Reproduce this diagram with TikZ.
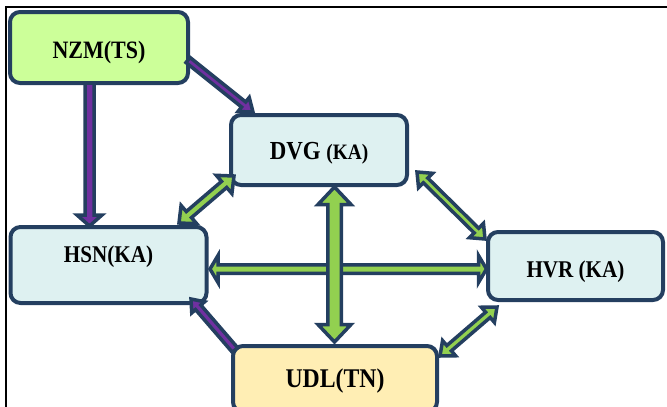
\documentclass[tikz,border=0pt]{standalone}
\usepackage{fontspec}
\setmainfont{Liberation Serif}[FakeStretch=0.88]
\usetikzlibrary{calc}
\definecolor{navy}{RGB}{36,63,96}
\definecolor{nzmfill}{RGB}{204,255,153}
\definecolor{cyanfill}{RGB}{222,241,241}
\definecolor{udlfill}{RGB}{255,238,180}
\definecolor{arrgreen}{RGB}{146,208,80}
\definecolor{arrpurple}{RGB}{112,48,160}
% single-headed block arrow: #1 tail, #2 tip, #3 fill, #4 shaft half width, #5 head half width, #6 head length
\newcommand{\barrS}[6]{%
  \draw[barrow, fill=#3]
    ($(#1)!#4!-90:(#2)$) --
    ($(#2)!#6!(#1)!#4!90:(#1)$) --
    ($(#2)!#6!(#1)!#5!90:(#1)$) --
    (#2) --
    ($(#2)!#6!(#1)!#5!-90:(#1)$) --
    ($(#2)!#6!(#1)!#4!-90:(#1)$) --
    ($(#1)!#4!90:(#2)$) -- cycle;}
% double-headed block arrow
\newcommand{\barrD}[6]{%
  \draw[barrow, fill=#3]
    ($(#2)!#6!(#1)!#4!90:(#1)$) --
    ($(#2)!#6!(#1)!#5!90:(#1)$) --
    (#2) --
    ($(#2)!#6!(#1)!#5!-90:(#1)$) --
    ($(#2)!#6!(#1)!#4!-90:(#1)$) --
    ($(#1)!#6!(#2)!#4!90:(#2)$) --
    ($(#1)!#6!(#2)!#5!90:(#2)$) --
    (#1) --
    ($(#1)!#6!(#2)!#5!-90:(#2)$) --
    ($(#1)!#6!(#2)!#4!-90:(#2)$) -- cycle;}
\begin{document}
\begin{tikzpicture}[x=1pt,y=-1pt,
  box/.style={draw=navy, line width=4pt, rounded corners=10pt, outer sep=0pt, inner sep=0pt, text=black, text depth=0pt},
  barrow/.style={draw=navy, line width=3.5pt, line join=miter}]
\useasboundingbox (0,0) rectangle (667,407);
\clip (0,0) rectangle (667,407);
\draw[line width=1.5pt, black] (667,7) -- (6,7) -- (6,407);

\node[box, fill=nzmfill, minimum width=178pt, minimum height=71pt,
  font=\bfseries\fontsize{25}{25}\selectfont, text height=21.5pt] (nzm) at (99,47.5) {NZM(TS)};
\node[box, fill=cyanfill, minimum width=176pt, minimum height=70pt,
  font=\bfseries\fontsize{26}{26}\selectfont, text height=19.2pt] (dvg) at (319,150) {DVG {\fontsize{22}{22}\selectfont(KA)}};
\node[box, fill=cyanfill, minimum width=196pt, minimum height=76pt,
  font=\bfseries\fontsize{24}{24}\selectfont, text height=15.9pt, text depth=20pt] (hsn) at (108.5,265) {HSN(KA)};
\node[box, fill=cyanfill, minimum width=175pt, minimum height=68pt,
  font=\bfseries\fontsize{24}{24}\selectfont, text height=22pt] (hvr) at (575.5,266) {HVR (KA)};
\node[box, fill=udlfill, minimum width=204pt, minimum height=66pt,
  font=\bfseries\fontsize{27}{27}\selectfont, text height=17.9pt] (udl) at (335,379) {UDL(TN)\hspace{12pt}};

\coordinate (a1s) at ($(nzm.south)+(-9.5,0)$);
\coordinate (a1e) at ($(hsn.north)+(-19,-1)$);
\coordinate (a2s) at ($(nzm.east)+(0,12.5)$);
\coordinate (a2e) at ($(dvg.north west)+(22,-3)$);
\coordinate (a3s) at ($(udl.north west)+(2,4)$);
\coordinate (a3e) at ($(hsn.south east)+(-15.5,-4)$);
\coordinate (a4s) at ($(hsn.north east)+(-27.5,-4)$);
\coordinate (a4e) at ($(dvg.south west)+(3,-9)$);
\coordinate (a5s) at ($(dvg.south)+(15.5,2)$);
\coordinate (a5e) at ($(udl.north)+(-0.5,-4)$);
\coordinate (a6s) at ($(hsn.east)+(3.5,4)$);
\coordinate (a6e) at ($(hvr.west)+(-1.5,3)$);
\coordinate (a7s) at ($(dvg.east)+(10,22)$);
\coordinate (a7e) at ($(hvr.north west)+(-3,7)$);
\coordinate (a8s) at ($(hvr.south west)+(9,7)$);
\coordinate (a8e) at ($(udl.north east)+(3,10)$);

\barrS{a1s}{a1e}{arrpurple}{4.5pt}{12.5pt}{11pt}
\barrS{a2s}{a2e}{arrpurple}{3.25pt}{9pt}{12pt}
\barrS{a3s}{a3e}{arrpurple}{3.5pt}{8.5pt}{11pt}
\barrD{a4s}{a4e}{arrgreen}{4pt}{12pt}{13pt}
\barrD{a6s}{a6e}{arrgreen}{4.25pt}{13.5pt}{8pt}
\barrD{a5s}{a5e}{arrgreen}{6.75pt}{16.5pt}{17.5pt}
\barrD{a7s}{a7e}{arrgreen}{3.25pt}{10pt}{12pt}
\barrD{a8s}{a8e}{arrgreen}{3.5pt}{10pt}{12pt}
\end{tikzpicture}
\end{document}
